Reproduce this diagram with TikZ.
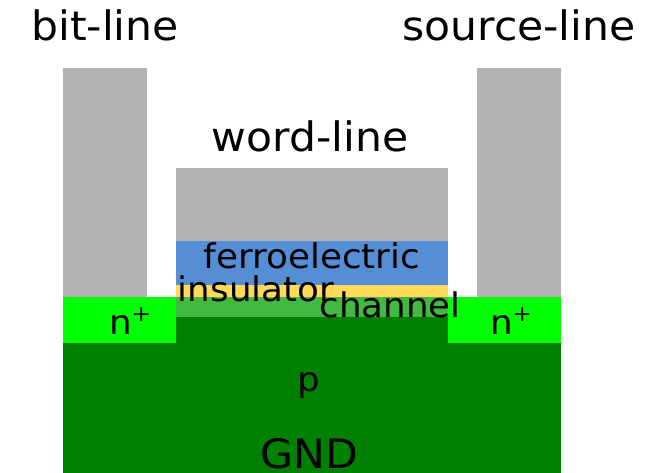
\documentclass[tikz,border=0pt]{standalone}
\usepackage{fontspec}
\setmainfont[FakeStretch=1.05]{DejaVu Sans}
\definecolor{metal}{RGB}{178,178,178}
\definecolor{ferro}{RGB}{85,142,213}
\definecolor{insul}{RGB}{255,217,90}
\definecolor{chan}{RGB}{66,186,66}
\definecolor{nplus}{RGB}{0,255,0}
\definecolor{pbody}{RGB}{0,128,0}
\newcommand{\nplustext}{n\raisebox{13pt}{\fontsize{22}{22}\selectfont +}}
\tikzset{
  lab/.style={inner sep=0pt,anchor=base,text=black},
  big/.style={lab,font=\fontsize{40.5}{40.5}\selectfont},
  small/.style={lab,font=\fontsize{34}{34}\selectfont},
  block/.style={draw=none}
}
\begin{document}
\begin{tikzpicture}[x=1pt,y=-1pt]
\useasboundingbox (0,0) rectangle (653,473);
\fill[metal,block] (63,68) rectangle (147,298);
\fill[metal,block] (477,68) rectangle (561,297);
\fill[metal,block] (176,168) rectangle (448,241);
\fill[ferro,block] (176,241) rectangle (448,285);
\fill[insul,block] (176,285) rectangle (448,297);
\fill[chan,block] (176,297) rectangle (448,317);
\fill[pbody,block] (63,343) rectangle (561,473);
\fill[pbody,block] (176,317) rectangle (448,343);
\fill[nplus,block] (63,297) rectangle (176,343);
\fill[nplus,block] (448,297) rectangle (561,343);
\node[big] (bl) at (105,41) {bit-line};
\node[big] (sl) at (519,41) {source-line};
\node[big] (wl) at (310,152) {word-line};
\node[small] (fe) at (312,268) {ferroelectric};
\node[small] (ins) at (256,301) {insulator};
\node[small] (ch) at (390,317) {channel};
\node[small] (n1) at (130,334) {\nplustext};
\node[small] (n2) at (511,334) {\nplustext};
\node[small] (p) at (309,391) {p};
\node[big] (gnd) at (309,468) {GND};
\end{tikzpicture}
\end{document}
